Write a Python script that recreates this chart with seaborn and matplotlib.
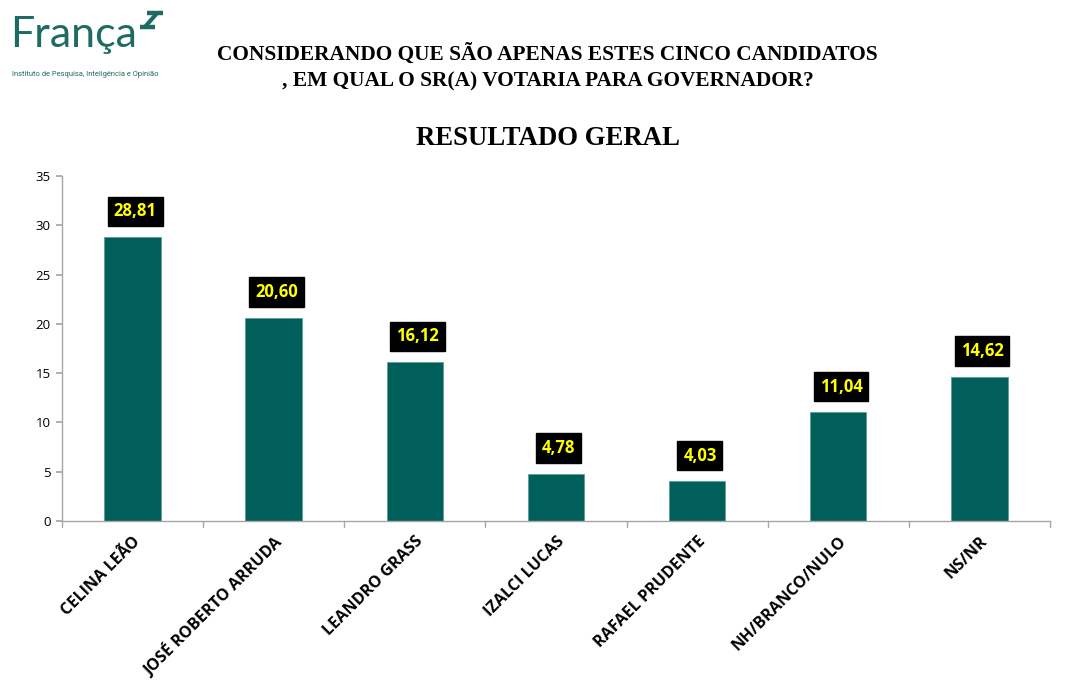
import matplotlib
matplotlib.use("Agg")
import matplotlib.pyplot as plt
import pandas as pd
import seaborn as sns
from matplotlib.lines import Line2D

candidatos = ["CELINA LEÃO", "JOSÉ ROBERTO ARRUDA", "LEANDRO GRASS", "IZALCI LUCAS",
              "RAFAEL PRUDENTE", "NH/BRANCO/NULO", "NS/NR"]
percentuais = [28.81, 20.60, 16.12, 4.78, 4.03, 11.04, 14.62]
y_ticks = [0, 5, 10, 15, 20, 25, 30, 35]

bar_color = "#005e5b"
teal = "#1d6b62"

sns.set_theme(style="white")
plt.rcParams["font.family"] = ["DejaVu Sans"]
plt.rcParams["text.color"] = "black"

df = pd.DataFrame({"candidato": candidatos, "valor": percentuais})

fig = plt.figure(figsize=(10.91, 6.87), dpi=100)
ax = fig.add_axes([0.0568, 0.2416, 0.9056, 0.5022])

sns.barplot(data=df, x="candidato", y="valor", color=bar_color, width=0.4,
            saturation=1, edgecolor="#5f9f9a", linewidth=0.6, ax=ax)

ax.set_ylim(0, 35)
ax.set_xlim(-0.5, len(candidatos) - 0.5)
ax.set_yticks(y_ticks)
ax.set_yticklabels([str(t) for t in y_ticks], fontsize=9.5, family="Open Sans", color="black")
ax.set_xlabel("")
ax.set_ylabel("")

# category tick marks between bars, like the source spreadsheet chart
ax.set_xticks([i for i in range(len(candidatos))])
ax.set_xticklabels(candidatos, rotation=45, ha="right", rotation_mode="anchor",
                   fontsize=11.6, fontweight="bold", family="Open Sans", color="black")
ax.tick_params(axis="x", length=0, pad=9)
for i in range(len(candidatos) + 1):
    ax.plot([i - 0.5, i - 0.5], [0, -0.6], color="#a6a6a6", lw=1, clip_on=False)
ax.tick_params(axis="y", length=4, color="#a6a6a6", left=True, pad=4)

for side in ["top", "right"]:
    ax.spines[side].set_visible(False)
for side in ["left", "bottom"]:
    ax.spines[side].set_color("#a6a6a6")
    ax.spines[side].set_linewidth(1)

for i, v in enumerate(percentuais):
    ax.text(i + 0.02, v + 2.6, f"{v:.2f}".replace(".", ","), ha="center", va="center",
            fontsize=12, fontweight="bold", color="#ffff00", family="Open Sans",
            bbox=dict(boxstyle="square,pad=0.35", facecolor="black", edgecolor="black"))

fig.text(0.502, 0.921, "CONSIDERANDO QUE SÃO APENAS ESTES CINCO CANDIDATOS",
         ha="center", va="center", fontsize=15.4, fontweight="bold", family="Liberation Serif")
fig.text(0.502, 0.882, ", EM QUAL O SR(A) VOTARIA PARA GOVERNADOR?",
         ha="center", va="center", fontsize=15.4, fontweight="bold", family="Liberation Serif")
fig.text(0.502, 0.799, "RESULTADO GERAL", ha="center", va="center",
         fontsize=19.3, fontweight="bold", family="Liberation Serif")

# logo
fig.text(0.009, 0.9316, "França", ha="left", va="baseline", fontsize=31,
         fontweight="normal", color=teal, family="Lato")
fig.text(0.011, 0.891, "Instituto de Pesquisa, Inteligência e Opinião", ha="left",
         va="center", fontsize=5.4, color=teal, family="Roboto")
fig.add_artist(Line2D([0.1345, 0.1490], [0.9810, 0.9810], color=teal, lw=3.2,
                      solid_capstyle="butt"))
fig.add_artist(Line2D([0.1283, 0.1425], [0.9610, 0.9610], color=teal, lw=3.2,
                      solid_capstyle="butt"))
fig.add_artist(Line2D([0.1330, 0.1440], [0.9610, 0.9810], color=teal, lw=3.0,
                      solid_capstyle="butt"))

fig.savefig("out.png", dpi=100)
